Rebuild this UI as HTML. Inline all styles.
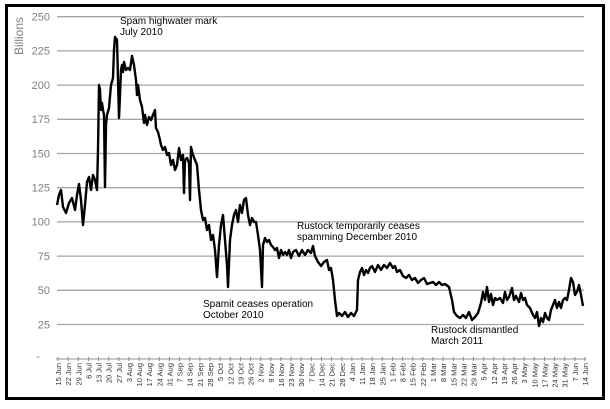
<!DOCTYPE html>
<html><head><meta charset="utf-8"><style>
html,body{margin:0;padding:0;background:#fff;}
svg{display:block;font-family:"Liberation Sans",sans-serif;}
</style></head><body>
<svg width="610" height="409" viewBox="0 0 610 409" xmlns="http://www.w3.org/2000/svg">
<rect x="0" y="0" width="610" height="409" fill="#fff"/>
<rect x="6.5" y="5.5" width="597" height="393" fill="none" stroke="#000" stroke-width="3"/>
<g stroke="#a6a6a6" stroke-width="1.3">
<line x1="57" x2="584" y1="16.7" y2="16.7"/>
<line x1="57" x2="584" y1="50.9" y2="50.9"/>
<line x1="57" x2="584" y1="85.1" y2="85.1"/>
<line x1="57" x2="584" y1="119.3" y2="119.3"/>
<line x1="57" x2="584" y1="153.5" y2="153.5"/>
<line x1="57" x2="584" y1="187.7" y2="187.7"/>
<line x1="57" x2="584" y1="221.9" y2="221.9"/>
<line x1="57" x2="584" y1="256.1" y2="256.1"/>
<line x1="57" x2="584" y1="290.3" y2="290.3"/>
<line x1="57" x2="584" y1="324.5" y2="324.5"/>
<line x1="56" x2="586" y1="359" y2="359"/>
</g>
<g fill="#7f7f7f" font-size="11" text-anchor="end">
<text x="50" y="20.5">250</text><text x="50" y="54.7">225</text><text x="50" y="88.9">200</text>
<text x="50" y="123.1">175</text><text x="50" y="157.3">150</text><text x="50" y="191.5">125</text>
<text x="50" y="225.7">100</text><text x="50" y="259.9">75</text><text x="50" y="294.1">50</text>
<text x="50" y="328.3">25</text><text x="40" y="360">-</text>
</g>
<text transform="translate(23,36) rotate(-90)" font-size="12" fill="#7f7f7f" text-anchor="middle">Billions</text>
<path stroke="#888" stroke-width="1" d="M58 357v4M68.1 357v4M78.3 357v4M88.4 357v4M98.5 357v4M108.7 357v4M118.8 357v4M128.9 357v4M139.1 357v4M149.2 357v4M159.3 357v4M169.5 357v4M179.6 357v4M189.7 357v4M199.9 357v4M210 357v4M220.2 357v4M230.3 357v4M240.4 357v4M250.6 357v4M260.7 357v4M270.8 357v4M281 357v4M291.1 357v4M301.2 357v4M311.4 357v4M321.5 357v4M331.6 357v4M341.8 357v4M351.9 357v4M362 357v4M372.2 357v4M382.3 357v4M392.4 357v4M402.6 357v4M412.7 357v4M422.8 357v4M433 357v4M443.1 357v4M453.3 357v4M463.4 357v4M473.5 357v4M483.7 357v4M493.8 357v4M503.9 357v4M514.1 357v4M524.2 357v4M534.3 357v4M544.5 357v4M554.6 357v4M564.7 357v4M574.9 357v4M585 357v4"/>
<g font-size="7.5" fill="#333" text-anchor="end">
<text transform="translate(61,363) rotate(-90)">15 Jun</text>
<text transform="translate(71.1,363) rotate(-90)">22 Jun</text>
<text transform="translate(81.3,363) rotate(-90)">29 Jun</text>
<text transform="translate(91.4,363) rotate(-90)">6 Jul</text>
<text transform="translate(101.5,363) rotate(-90)">13 Jul</text>
<text transform="translate(111.7,363) rotate(-90)">20 Jul</text>
<text transform="translate(121.8,363) rotate(-90)">27 Jul</text>
<text transform="translate(131.9,363) rotate(-90)">3 Aug</text>
<text transform="translate(142.1,363) rotate(-90)">10 Aug</text>
<text transform="translate(152.2,363) rotate(-90)">17 Aug</text>
<text transform="translate(162.3,363) rotate(-90)">24 Aug</text>
<text transform="translate(172.5,363) rotate(-90)">31 Aug</text>
<text transform="translate(182.6,363) rotate(-90)">7 Sep</text>
<text transform="translate(192.7,363) rotate(-90)">14 Sep</text>
<text transform="translate(202.9,363) rotate(-90)">21 Sep</text>
<text transform="translate(213,363) rotate(-90)">28 Sep</text>
<text transform="translate(223.2,363) rotate(-90)">5 Oct</text>
<text transform="translate(233.3,363) rotate(-90)">12 Oct</text>
<text transform="translate(243.4,363) rotate(-90)">19 Oct</text>
<text transform="translate(253.6,363) rotate(-90)">26 Oct</text>
<text transform="translate(263.7,363) rotate(-90)">2 Nov</text>
<text transform="translate(273.8,363) rotate(-90)">9 Nov</text>
<text transform="translate(284,363) rotate(-90)">16 Nov</text>
<text transform="translate(294.1,363) rotate(-90)">23 Nov</text>
<text transform="translate(304.2,363) rotate(-90)">30 Nov</text>
<text transform="translate(314.4,363) rotate(-90)">7 Dec</text>
<text transform="translate(324.5,363) rotate(-90)">14 Dec</text>
<text transform="translate(334.6,363) rotate(-90)">21 Dec</text>
<text transform="translate(344.8,363) rotate(-90)">28 Dec</text>
<text transform="translate(354.9,363) rotate(-90)">4 Jan</text>
<text transform="translate(365,363) rotate(-90)">11 Jan</text>
<text transform="translate(375.2,363) rotate(-90)">18 Jan</text>
<text transform="translate(385.3,363) rotate(-90)">25 Jan</text>
<text transform="translate(395.4,363) rotate(-90)">1 Feb</text>
<text transform="translate(405.6,363) rotate(-90)">8 Feb</text>
<text transform="translate(415.7,363) rotate(-90)">15 Feb</text>
<text transform="translate(425.8,363) rotate(-90)">22 Feb</text>
<text transform="translate(436,363) rotate(-90)">1 Mar</text>
<text transform="translate(446.1,363) rotate(-90)">8 Mar</text>
<text transform="translate(456.3,363) rotate(-90)">15 Mar</text>
<text transform="translate(466.4,363) rotate(-90)">22 Mar</text>
<text transform="translate(476.5,363) rotate(-90)">29 Mar</text>
<text transform="translate(486.7,363) rotate(-90)">5 Apr</text>
<text transform="translate(496.8,363) rotate(-90)">12 Apr</text>
<text transform="translate(506.9,363) rotate(-90)">19 Apr</text>
<text transform="translate(517.1,363) rotate(-90)">26 Apr</text>
<text transform="translate(527.2,363) rotate(-90)">3 May</text>
<text transform="translate(537.3,363) rotate(-90)">10 May</text>
<text transform="translate(547.5,363) rotate(-90)">17 May</text>
<text transform="translate(557.6,363) rotate(-90)">24 May</text>
<text transform="translate(567.7,363) rotate(-90)">31 May</text>
<text transform="translate(577.9,363) rotate(-90)">7 Jun</text>
<text transform="translate(588,363) rotate(-90)">14 Jun</text>
</g>
<polyline fill="none" stroke="#000" stroke-width="2.4" stroke-linejoin="round" points="57,205 59,195 61,190 63,207 66,213 69,203 72,198 75,210 77,195 79,184 81,200 83,225 85,205 87,182 89,177 91,190 93,175 95,180 97,190 98,150 99,85 100,90 101,110 102,103 103,110 104,115 105,187 106,125 107,115 109,108 111,85 113,78 114,50 115,37 117,40 118,80 119,118 120,95 121,70 122,65 123,72 124,62 126,70 128,68 130,70 132,56 134,65 136,80 137,95 138,85 140,100 142,107 144,123 145,115 147,125 149,117 151,120 153,115 155,110 156,128 158,132 160,140 161,145 163,150 165,147 167,155 169,153 171,165 173,160 175,170 177,165 179,148 181,160 183,155 184,193 185,160 187,158 189,163 190,200 191,147 193,155 195,160 197,165 199,190 201,210 203,220 205,218 207,230 209,225 211,240 213,235 215,250 217,277 219,245 221,225 223,215 225,240 227,265 228,287 230,240 232,225 234,215 236,210 238,222 240,205 242,213 244,200 246,198 248,215 250,225 252,218 254,222 256,222 258,235 260,250 262,287 263,245 265,238 267,242 269,240 271,245 273,247 275,250 277,248 279,258 281,250 283,255 285,252 287,255 289,250 291,258 293,252 296,250 299,256 302,250 305,255 308,250 311,253 313,246 315,256 318,262 321,266 324,262 327,260 329,270 331,268 333,280 335,300 337,316 339,313 342,316 345,312 348,317 351,313 354,316 357,310 358,280 360,272 362,268 364,275 366,270 368,273 370,268 372,266 375,272 378,265 381,270 384,265 387,268 390,263 393,268 395,266 397,272 400,270 403,276 406,278 409,275 412,280 415,278 418,283 421,280 424,278 427,284 430,283 433,282 436,285 439,282 442,285 445,284 449,287 452,300 454,312 457,316 460,318 463,315 466,318 469,312 472,320 475,317 478,313 481,303 483,292 485,300 487,287 489,302 491,294 493,305 495,298 497,300 500,298 503,303 505,292 507,300 509,297 512,288 514,300 516,296 519,302 521,293 523,300 525,298 527,305 530,308 533,315 535,318 537,312 539,326 541,318 543,322 545,313 547,318 549,320 551,310 553,305 555,300 557,308 559,302 561,308 563,300 565,298 567,300 569,290 571,278 573,282 575,295 577,292 579,285 581,295 583,306"/>
<g font-size="10" fill="#000">
<text x="120" y="24">Spam highwater mark</text><text x="120" y="35">July 2010</text>
<text x="297" y="229">Rustock temporarily ceases</text><text x="297" y="240">spamming December 2010</text>
<text x="203" y="307">Spamit ceases operation</text><text x="203" y="318">October 2010</text>
<text x="431" y="333">Rustock dismantled</text><text x="431" y="344">March 2011</text>
</g>
</svg>
</body></html>
